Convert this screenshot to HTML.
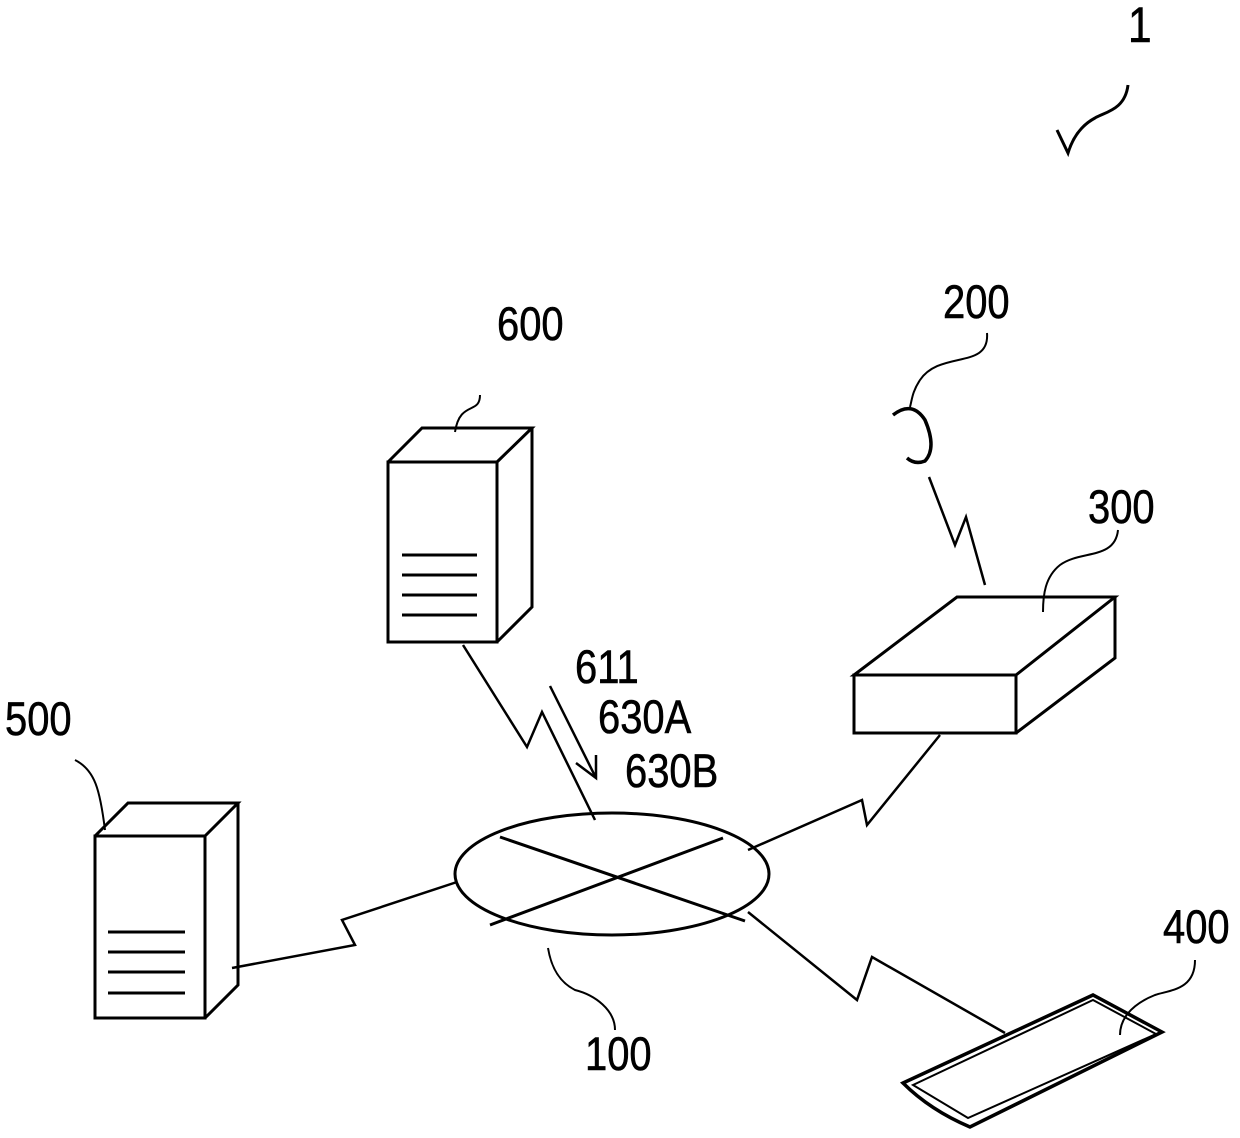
<!DOCTYPE html>
<html><head><meta charset="utf-8"><style>
html,body{margin:0;padding:0;background:#fff;}
svg{display:block;}
text{font-family:"Liberation Sans",sans-serif;font-size:47px;fill:#000;stroke:#000;stroke-width:0.6;}
</style></head><body>
<svg width="1240" height="1138" viewBox="0 0 1240 1138" xmlns="http://www.w3.org/2000/svg">
<g fill="none" stroke="#000" stroke-width="3" stroke-linejoin="miter">
<rect x="388" y="462" width="109" height="180" fill="#fff"/>
<path d="M388 462 L422 428 L532 428 L497 462 M532 428 L532 607 L497 642"/>
<path d="M402 555 H477 M402 575 H477 M402 595 H477 M402 615 H477"/>
<rect x="95" y="836" width="110" height="182" fill="#fff"/>
<path d="M95 836 L128 803 L238 803 L205 836 M238 803 L238 985 L205 1018"/>
<path d="M108 932 H185 M108 952 H185 M108 972 H185 M108 993 H185"/>
<ellipse cx="612" cy="874" rx="157" ry="61"/>
<path d="M500 837 L745 921 M490 925 L723 838"/>
<path d="M463 645 L527 747 L542 712 L595 820" stroke-width="2.5"/>
<path d="M232 968 L355 945 L342 920 L457 882" stroke-width="2.5"/>
<path d="M748 850 L862 800 L867 825 L940 735" stroke-width="2.5"/>
<path d="M748 912 L857 1000 L872 957 L1005 1033" stroke-width="2.5"/>
<path d="M929 477 L955 545 L966 517 L985 585" stroke-width="2.5"/>
<path d="M550 686 L596 778 M576 763 L596 778 L596 755" stroke-width="2.5"/>
<path d="M854 675 L957 597 L1115 597 L1016 675 Z" fill="#fff"/>
<rect x="854" y="675" width="162" height="58" fill="#fff"/>
<path d="M1016 733 L1115 658 L1115 597"/>
<path d="M893 415 Q912 400 925 420 Q937 448 925 461 Q915 465 907 458" stroke-width="3.5"/>
<path d="M903 1083 L1093 995 L1162 1032 L970 1127 Q930 1110 903 1083 Z" fill="#fff" stroke-width="3.5"/>
<path d="M913 1085 L1093 1000 L1156 1034 L968 1118 Z" stroke-width="2"/>
<path d="M480 395 C480 415 460 400 455 432" stroke-width="2"/>
<path d="M987 333 C990 370 940 350 920 380 C912 392 912 400 910 407" stroke-width="2"/>
<path d="M1118 530 C1115 560 1080 550 1060 565 C1045 577 1043 595 1043 612" stroke-width="2"/>
<path d="M75 760 C95 770 100 790 105 830" stroke-width="2"/>
<path d="M615 1030 C615 1010 595 995 575 990 C555 980 550 960 548 948" stroke-width="2"/>
<path d="M1195 960 C1195 990 1170 990 1155 995 C1130 1005 1120 1020 1120 1035" stroke-width="2"/>
<path d="M1128 85 C1125 110 1105 112 1095 118 C1080 126 1072 140 1068 153 L1057 130" stroke-width="3"/>
</g>
<text transform="translate(497,340) scale(0.85,1)">600</text>
<text transform="translate(943,318) scale(0.85,1)">200</text>
<text transform="translate(1088,523) scale(0.85,1)">300</text>
<text transform="translate(5,735) scale(0.85,1)">500</text>
<text transform="translate(575,683) scale(0.85,1)">611</text>
<text transform="translate(598,733) scale(0.85,1)">630A</text>
<text transform="translate(625,787) scale(0.85,1)">630B</text>
<text transform="translate(585,1070) scale(0.85,1)">100</text>
<text transform="translate(1163,943) scale(0.85,1)">400</text>
<text transform="translate(1128,42) scale(0.85,1)" style="font-size:50px">1</text>
</svg>
</body></html>
